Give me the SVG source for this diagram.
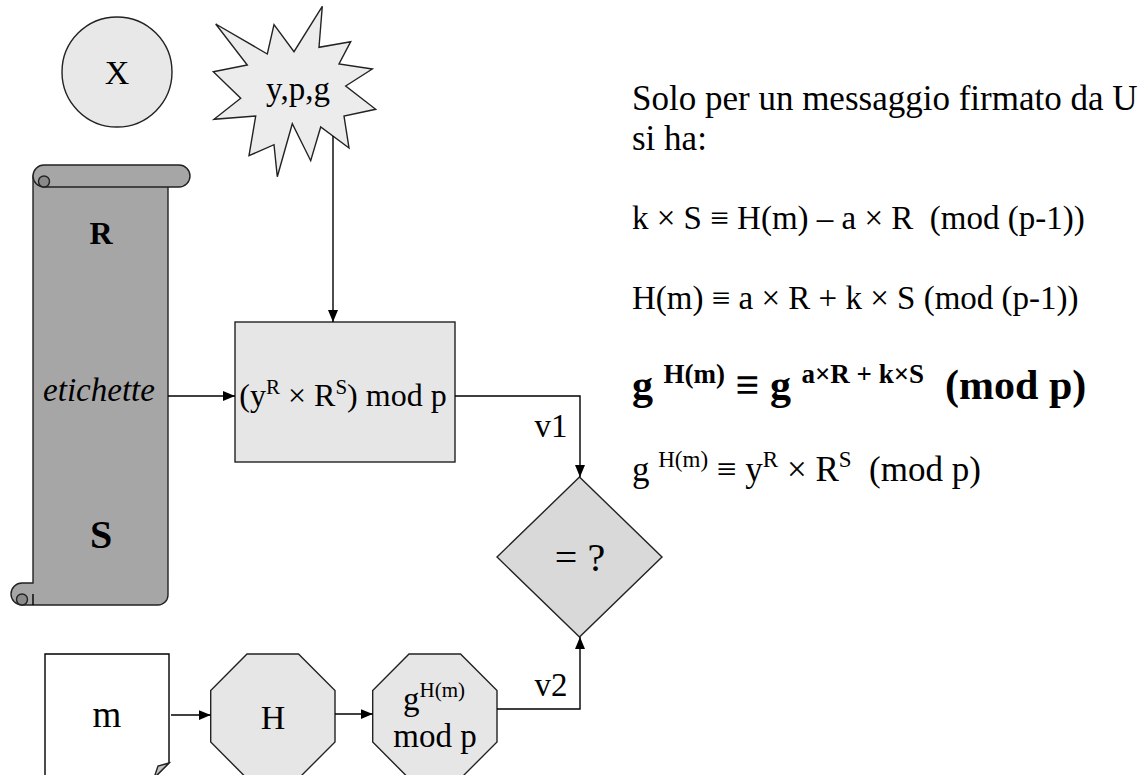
<svg xmlns="http://www.w3.org/2000/svg" width="1142" height="775" viewBox="0 0 1142 775">
<style>
text{font-family:"Liberation Serif","Times New Roman",serif;fill:#000;white-space:pre}
.ln{fill:none;stroke:#000;stroke-width:1.4}
.sh{stroke:#222;stroke-width:1.4}
.lt{fill:#e6e6e6}
</style>
<defs>
<marker id="ah" viewBox="0 0 12 10" refX="12" refY="5" markerWidth="12" markerHeight="10" markerUnits="userSpaceOnUse" orient="auto">
<path d="M0,0 L12,5 L0,10 Z" fill="#000"/>
</marker>
</defs>
<rect width="1142" height="775" fill="#fff"/>

<g id="node-X">
<circle cx="117" cy="72" r="55" class="sh" fill="#e8e8e8"/>
<text x="117" y="84" font-size="34" text-anchor="middle">X</text>
</g>

<g id="node-ypg">
<polygon class="sh" fill="#ececec" points="215.7,24 267.3,54 274,24.7 294,51.7 322.3,6.3 319,47.3 350.7,41.7 339,64 372.3,69 345.7,86 375.7,109.3 344,116 349,148 320.7,127 310.7,160.7 292.3,123.7 277.3,176.7 274,144.7 249,155.7 255.7,116 214,119.3 240.7,98.3 213.3,71.7 247.3,65"/>
<text x="298" y="100" font-size="33" text-anchor="middle">y,p,g</text>
</g>

<g id="node-scroll">
<path class="sh" fill="#a6a6a6" d="M33,176 H168 V595 A10,10 0 0 1 158,605 H22 A11,11 0 0 1 22,583 H33 Z"/>
<path class="sh" fill="#a6a6a6" d="M44,165 H179 A11,11 0 0 1 179,187 H44 A11,11 0 0 1 44,165 Z"/>
<path class="sh" fill="#8a8a8a" d="M44,187 A5.5,5.5 0 0 1 44,176 A5.5,5.5 0 0 1 49.5,181.5 A5.5,5.5 0 0 1 44,187 Z"/>
<path class="sh" fill="#8a8a8a" d="M22,605 A5.5,5.5 0 0 1 22,594 A5.5,5.5 0 0 1 27.5,599.5 A5.5,5.5 0 0 1 22,605 Z"/>
<path class="ln" d="M33,594 V605"/>
<text x="101" y="244" font-size="32" font-weight="bold" text-anchor="middle">R</text>
<text x="99" y="401" font-size="33" font-style="italic" text-anchor="middle">etichette</text>
<text x="101" y="548" font-size="40" font-weight="bold" text-anchor="middle">S</text>
</g>

<g id="node-box">
<rect x="235" y="322" width="220" height="140" class="sh lt"/>
<text x="343" y="406" font-size="32" text-anchor="middle">(y<tspan font-size="21" dy="-12">R</tspan><tspan dy="12"> × R</tspan><tspan font-size="21" dy="-12">S</tspan><tspan dy="12">) mod p</tspan></text>
</g>

<g id="node-diamond">
<polygon class="sh" fill="#d9d9d9" points="579.5,477 662,557 579.5,637 497,557"/>
<text x="580" y="571" font-size="40" text-anchor="middle">= ?</text>
</g>

<g id="node-m">
<path class="ln" fill="#fff" d="M45,654 H169 V763 L154,778 H45 Z"/>
<path class="sh" fill="#c4c4c4" d="M169,763 L158,766 L154,778 Z"/>
<text x="107" y="727" font-size="37" text-anchor="middle">m</text>
</g>

<g id="node-H">
<polygon class="sh lt" points="247,654 298.5,654 335,690.5 335,742 298.5,778.5 247,778.5 210.7,742 210.7,690.5"/>
<text x="273" y="729" font-size="34" text-anchor="middle">H</text>
</g>

<g id="node-gmod">
<polygon class="sh lt" points="409,654 460.5,654 497,690.5 497,742 460.5,778.5 409,778.5 372.7,742 372.7,690.5"/>
<text x="434" y="710" font-size="33" text-anchor="middle">g<tspan font-size="21" dy="-13">H(m)</tspan></text>
<text x="435" y="747" font-size="33" text-anchor="middle">mod p</text>
</g>

<g id="connectors">
<path class="ln" d="M333,136 V322" marker-end="url(#ah)"/>
<path class="ln" d="M168,396 H235" marker-end="url(#ah)"/>
<path class="ln" d="M455,396 H580 V477" marker-end="url(#ah)"/>
<path class="ln" d="M171,715 H210.7" marker-end="url(#ah)"/>
<path class="ln" d="M335,714 H372.7" marker-end="url(#ah)"/>
<path class="ln" d="M497,709 H580 V637" marker-end="url(#ah)"/>
<text x="551" y="437" font-size="33" text-anchor="middle">v1</text>
<text x="551" y="696" font-size="33" text-anchor="middle">v2</text>
</g>

<g id="notes">
<text x="632" y="110" font-size="35">Solo per un messaggio firmato da U</text>
<text x="632" y="150" font-size="35">si ha:</text>
<text x="632" y="229" font-size="33">k × S ≡ H(m) – a × R  (mod (p-1))</text>
<text x="632" y="309" font-size="33">H(m) ≡ a × R + k × S (mod (p-1))</text>
<text x="632" y="399" font-size="42" font-weight="bold">g <tspan font-size="27" dy="-16">H(m)</tspan><tspan dy="16"> ≡ g </tspan><tspan font-size="27" dy="-16">a×R + k×S</tspan><tspan dy="16">  (mod p)</tspan></text>
<text x="632" y="481" font-size="35">g <tspan font-size="23" dy="-14">H(m)</tspan><tspan dy="14"> ≡ y</tspan><tspan font-size="23" dy="-14">R</tspan><tspan dy="14"> × R</tspan><tspan font-size="23" dy="-14">S</tspan><tspan dy="14">  (mod p)</tspan></text>
</g>
</svg>
